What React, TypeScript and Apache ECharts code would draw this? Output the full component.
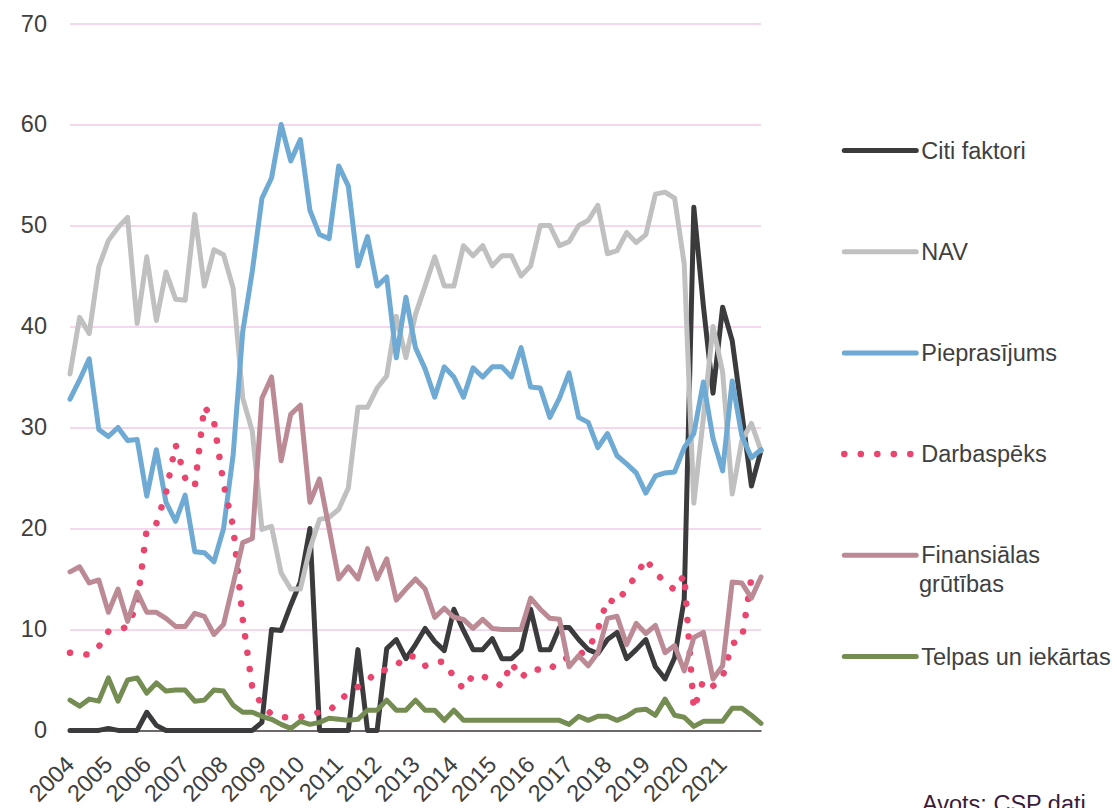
import React, { useEffect, useRef } from "react";
import * as echarts from "echarts";

const years = ["2004","2005","2006","2007","2008","2009","2010","2011","2012","2013","2014","2015","2016","2017","2018","2019","2020","2021"];
const quarters = ["Q1", "Q2", "Q3", "Q4"];
const lastPeriod = "2022Q1";

const citiFaktori = [0,0,0,0,0.2,0,0,0,1.8,0.5, 0,0,0,0,0,0,0,0,0,0, 0.8,10.0,9.9,12.4,14.7,20.0,0,0,0,0, 8.0,0,0,8.1,9.0,7.1,8.5,10.1,8.8,7.9, 12.0,9.9,8.0,8.0,9.1,7.1,7.1,8.0,12.0,8.0, 8.0,10.2,10.2,9.0,8.0,7.6,9.0,9.7,7.1,8.0, 9.0,6.3,5.1,7.2,13.0,51.8,42.0,33.4,41.9,38.6, 31.5,24.2,27.7];
const nav = [35.3,40.9,39.3,45.9,48.5,49.8,50.8,40.3,46.9,40.6, 45.4,42.7,42.6,51.1,44.0,47.6,47.1,43.8,32.9,29.6, 19.9,20.2,15.6,14.0,14.0,18.0,20.9,21.1,21.9,24.0, 32.0,32.0,33.9,35.1,41.0,36.9,41.2,44.0,46.9,44.0, 44.0,48.0,47.0,48.0,46.0,47.0,47.0,45.0,46.0,50.0, 50.0,48.0,48.4,50.0,50.5,52.0,47.2,47.5,49.3,48.3, 49.1,53.1,53.3,52.7,46.2,22.5,31.0,40.0,35.5,23.4, 28.7,30.4,27.7];
const pieprasijums = [32.8,34.7,36.8,29.8,29.1,30.0,28.7,28.8,23.2,27.8, 22.6,20.7,23.3,17.7,17.6,16.7,20.0,27.3,39.5,45.5, 52.7,54.7,60.0,56.4,58.5,51.5,49.1,48.7,55.9,53.9, 46.0,48.9,44.0,44.9,36.9,42.9,37.9,35.8,33.0,36.0, 35.0,33.0,35.9,35.0,36.0,36.0,35.0,37.9,34.0,33.9, 31.0,32.9,35.4,31.0,30.5,28.0,29.4,27.2,26.4,25.5, 23.5,25.2,25.5,25.6,28.0,29.4,34.5,28.9,25.7,34.6, 29.2,27.0,27.8];
const darbaspeks = [7.7,7.6,7.5,8.3,9.8,9.9,10.3,12.5,20.0,20.5, 23.5,28.3,25.0,24.1,32.1,30.6,24.4,20.2,11.0,4.2, 2.5,1.6,1.3,1.3,1.3,1.6,1.8,1.9,2.9,3.7, 4.3,4.9,5.9,6.0,6.4,7.4,7.3,6.4,6.8,6.8, 5.3,4.1,5.5,5.4,4.9,4.4,6.7,5.2,6.1,6.0, 6.0,7.0,7.2,7.5,8.0,10.0,13.0,12.6,14.1,15.3, 17.0,15.6,14.7,13.9,15.4,2.1,5.0,4.4,5.3,8.6, 9.0,15.1,15.1];
const finansialas = [15.7,16.2,14.6,14.9,11.7,14.0,10.8,13.7,11.7,11.7, 11.1,10.3,10.3,11.6,11.3,9.5,10.5,14.5,18.6,19.0, 32.9,35.0,26.7,31.3,32.2,22.6,24.9,20.0,15.0,16.2, 15.0,18.0,15.0,17.0,12.9,14.0,15.0,14.0,11.2,12.1, 11.2,11.0,10.1,11.0,10.1,10.0,10.0,10.0,13.1,12.0, 11.1,11.0,6.3,7.4,6.4,7.7,11.1,11.3,8.5,10.6, 9.6,10.4,7.7,8.4,5.9,9.2,9.7,5.1,6.4,14.7, 14.6,13.1,15.2];
const telpas = [3.0,2.4,3.1,2.9,5.2,2.9,5.0,5.2,3.7,4.7, 3.9,4.0,4.0,2.9,3.0,4.0,3.9,2.5,1.8,1.8, 1.4,1.1,0.6,0.2,0.9,0.6,0.8,1.2,1.1,1.0, 1.1,2.0,2.0,3.0,2.0,2.0,3.0,2.0,2.0,1.0, 2.0,1.0,1.0,1.0,1.0,1.0,1.0,1.0,1.0,1.0, 1.0,1.0,0.6,1.4,1.0,1.4,1.4,1.0,1.4,2.0, 2.1,1.5,3.1,1.5,1.3,0.4,0.9,0.9,0.9,2.2, 2.2,1.5,0.7];

const seriesNames = ["Citi faktori", "NAV", "Pieprasījums", "Darbaspēks", "Finansiālas grūtības", "Telpas un iekārtas"];
const seriesColors = ["#3b3b3d", "#c0c0c0", "#6eaad3", "#e8456f", "#bc8a95", "#758d53"];
const yTicks = { min: 0, max: 70, interval: 10 };
const sourceText = "Avots: CSP dati";

const FONT = "'Liberation Sans', Arial, sans-serif";
const TEXT_COLOR = "#404040";

export default function App() {
  const ref = useRef<HTMLDivElement>(null);

  useEffect(() => {
    document.body.style.margin = "0";
    if (!ref.current) return;
    const chart = echarts.init(ref.current, undefined, { renderer: "svg" });

    const categories: string[] = [];
    years.forEach((y) => quarters.forEach((q) => categories.push(y + q)));
    categories.push(lastPeriod);
    const lastIndex = categories.length - 1;

    const dataSets = [citiFaktori, nav, pieprasijums, darbaspeks, finansialas, telpas];

    const series = seriesNames.map((name, i) => {
      const dotted = i === 3;
      return {
        name,
        type: "line",
        data: dataSets[i],
        symbol: "none",
        showSymbol: false,
        z: 2 + i,
        lineStyle: {
          color: seriesColors[i],
          width: dotted ? 6.5 : 5,
          type: dotted ? [0.1, 16.4] : "solid",
          cap: "round",
          join: "round",
        },
        itemStyle: { color: seriesColors[i] },
        emphasis: { disabled: true },
      };
    });

    const option: any = {
      animation: false,
      backgroundColor: "#ffffff",
      textStyle: { fontFamily: FONT },
      grid: { left: 70, right: 356, top: 23.5, bottom: 67.5, containLabel: false },
      xAxis: {
        type: "category",
        boundaryGap: false,
        data: categories,
        axisTick: { show: false },
        axisLine: { show: true, lineStyle: { color: "#404040", width: 1.5 } },
        axisLabel: {
          interval: (index: number) => index % 4 === 0 && index < lastIndex,
          rotate: 45,
          margin: 30,
          fontSize: 23.5,
          color: TEXT_COLOR,
          fontFamily: FONT,
          formatter: (v: string) => v.slice(0, 4),
        },
        splitLine: { show: false },
      },
      yAxis: {
        type: "value",
        min: yTicks.min,
        max: yTicks.max,
        interval: yTicks.interval,
        axisLine: { show: false },
        axisTick: { show: false },
        axisLabel: { fontSize: 23.5, color: TEXT_COLOR, fontFamily: FONT, margin: 23 },
        splitLine: { show: true, lineStyle: { color: "#f2cbe9", width: 1.5 } },
      },
      legend: {
        orient: "vertical",
        left: 836,
        top: 133.5,
        itemWidth: 72,
        itemHeight: 4,
        itemGap: 77.2,
        selectedMode: false,
        itemStyle: { opacity: 0 },
        data: seriesNames.map((name, i) => ({
          name,
          lineStyle: { width: i === 3 ? 6.5 : 5 },
        })),
        textStyle: { fontSize: 23.5, color: TEXT_COLOR, fontFamily: FONT },
        formatter: (name: string) => (name === "Finansiālas grūtības" ? "Finansiālas" : name),
      },
      graphic: [
        {
          type: "text",
          left: 919,
          top: 572,
          style: { text: "grūtības", fontSize: 23.5, fill: TEXT_COLOR, fontFamily: FONT },
        },
        {
          type: "text",
          left: 922,
          top: 792,
          style: { text: sourceText, fontSize: 23.5, fill: "#3a1c3a", fontFamily: FONT },
        },
      ],
      series,
    };

    chart.setOption(option);
    return () => {
      chart.dispose();
    };
  }, []);

  return <div ref={ref} style={{ width: 1117, height: 808 }} />;
}
